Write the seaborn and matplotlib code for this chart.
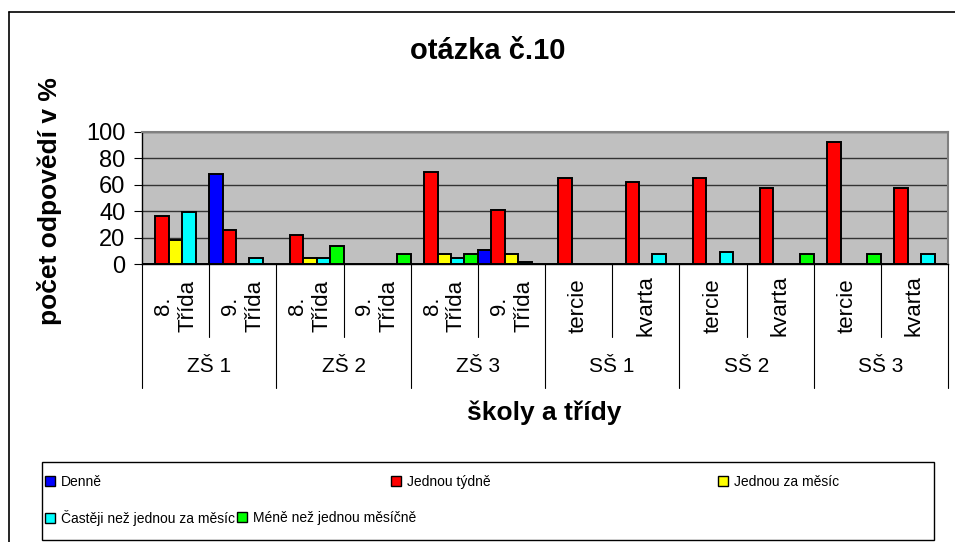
import pandas as pd
import matplotlib
matplotlib.use("Agg")
import matplotlib.pyplot as plt
import seaborn as sns
from matplotlib.patches import Rectangle, Patch
from matplotlib.lines import Line2D
from matplotlib.transforms import blended_transform_factory


skoly = ['ZŠ 1', 'ZŠ 2', 'ZŠ 3', 'SŠ 1', 'SŠ 2', 'SŠ 3']
tridy = ['8.\nTřída', '9.\nTřída'] * 3 + ['tercie', 'kvarta'] * 3
odpovedi = ['Denně', 'Jednou týdně', 'Jednou za měsíc',
            'Častěji než jednou za měsíc', 'Méně než jednou měsíčně']

denne = [0, 68, 0, 0, 0, 10.6, 0, 0, 0, 0, 0, 0]
tydne = [36, 25.5, 22.3, 0, 69.5, 41, 65, 62, 64.8, 57.5, 92.2, 57.5]
mesic = [18, 0, 4.3, 0, 7.3, 7.3, 0, 0, 0, 0, 0, 0]
casteji = [39.2, 4.6, 4.3, 0, 4.6, 1.5, 0, 7.6, 8.9, 0, 0, 7.6]
mene = [0, 0, 13.4, 7.6, 7.3, 0, 0, 0, 0, 7.6, 7.6, 0]

barvy = ['#0000ff', '#ff0000', '#ffff00', '#00ffff', '#00ff00']

# long table for seaborn
klice = [f'{skoly[i // 2]} {t}' for i, t in enumerate(tridy)]
rows = []
for serie, hodnoty in zip(odpovedi, [denne, tydne, mesic, casteji, mene]):
    for k, v in zip(klice, hodnoty):
        rows.append({'trida': k, 'odpoved': serie, 'podil': v})
df = pd.DataFrame(rows)

sns.set_style('white')
plt.rcParams['font.family'] = ['Liberation Sans', 'DejaVu Sans']
plt.rcParams['text.color'] = 'black'
plt.rcParams['ytick.color'] = 'black'
plt.rcParams['xtick.color'] = 'black'

W, H = 955, 542


def fx(x):
    return x / W


def fy(y):
    return 1 - y / H


fig = plt.figure(figsize=(W / 100, H / 100), dpi=100)
ax = fig.add_axes([fx(142), fy(264), (948 - 142) / W, (264 - 132) / H])

sns.barplot(data=df, x='trida', y='podil', hue='odpoved', order=klice,
            hue_order=odpovedi, palette=barvy, saturation=1, width=1.0,
            errorbar=None, edgecolor='black', linewidth=1.4, legend=False,
            ax=ax)

ax.set_xlim(-0.5, len(klice) - 0.5)
ax.set_ylim(0, 100)
ax.set_yticks(range(0, 101, 20))
ax.set_facecolor('#c0c0c0')
ax.yaxis.grid(True, color='#333333', lw=1)
ax.set_axisbelow(True)
ax.set_xlabel('')
ax.set_ylabel('')
ax.set_xticks([])
ax.tick_params(axis='y', length=6, width=0.8, color='black', pad=6,
               labelsize=17, labelcolor='black', direction='out', left=True)
for s in ['left', 'bottom']:
    ax.spines[s].set_color('black')
    ax.spines[s].set_linewidth(1)
for s in ['top', 'right']:
    ax.spines[s].set_color('#808080')
    ax.spines[s].set_linewidth(1.5)

# multi-level category axis
trans = blended_transform_factory(ax.transData, fig.transFigure)
for b in range(len(klice) + 1):
    konec = 388 if b % 2 == 0 else 337
    ax.plot([b - 0.5, b - 0.5], [fy(264), fy(konec)], transform=trans,
            color='black', lw=0.8, clip_on=False)
for i, t in enumerate(tridy):
    ax.text(i, fy(306), t, transform=trans, rotation=90, ha='center',
            va='center', multialignment='center', fontsize=16)
for g, s in enumerate(skoly):
    ax.text(2 * g + 0.5, fy(367), s, transform=trans, ha='center',
            va='center', fontsize=15)

fig.text(fx(488), fy(51), 'otázka č.10', ha='center', va='center',
         fontsize=21, fontweight='bold')
fig.text(fx(50), fy(201), 'počet odpovědí v %', rotation=90, ha='center',
         va='center', fontsize=19, fontweight='bold')
fig.text(fx(544), fy(413), 'školy a třídy', ha='center', va='center',
         fontsize=19, fontweight='bold')

# legend, laid out like the original
pozice = [(45, 482), (391, 482), (718, 482), (45, 518), (237, 518)]
for serie, barva, (px, py) in zip(odpovedi, barvy, pozice):
    fig.legend(handles=[Patch(facecolor=barva, edgecolor='black', lw=1)],
               labels=[serie], loc='center left',
               bbox_to_anchor=(fx(px), fy(py)), frameon=False,
               borderpad=0, borderaxespad=0, handlelength=0.75,
               handleheight=0.75, handletextpad=0.4, fontsize=10)
fig.add_artist(Rectangle((fx(42), fy(540)), (934 - 42) / W, (540 - 462) / H,
                         transform=fig.transFigure, fill=False,
                         edgecolor='black', lw=1))

# chart frame
fig.add_artist(Line2D([fx(9), 1], [fy(12), fy(12)], color='black', lw=1.2))
fig.add_artist(Line2D([fx(9), fx(9)], [fy(12), 0], color='black', lw=1.2))

fig.savefig('out.png', dpi=100)
